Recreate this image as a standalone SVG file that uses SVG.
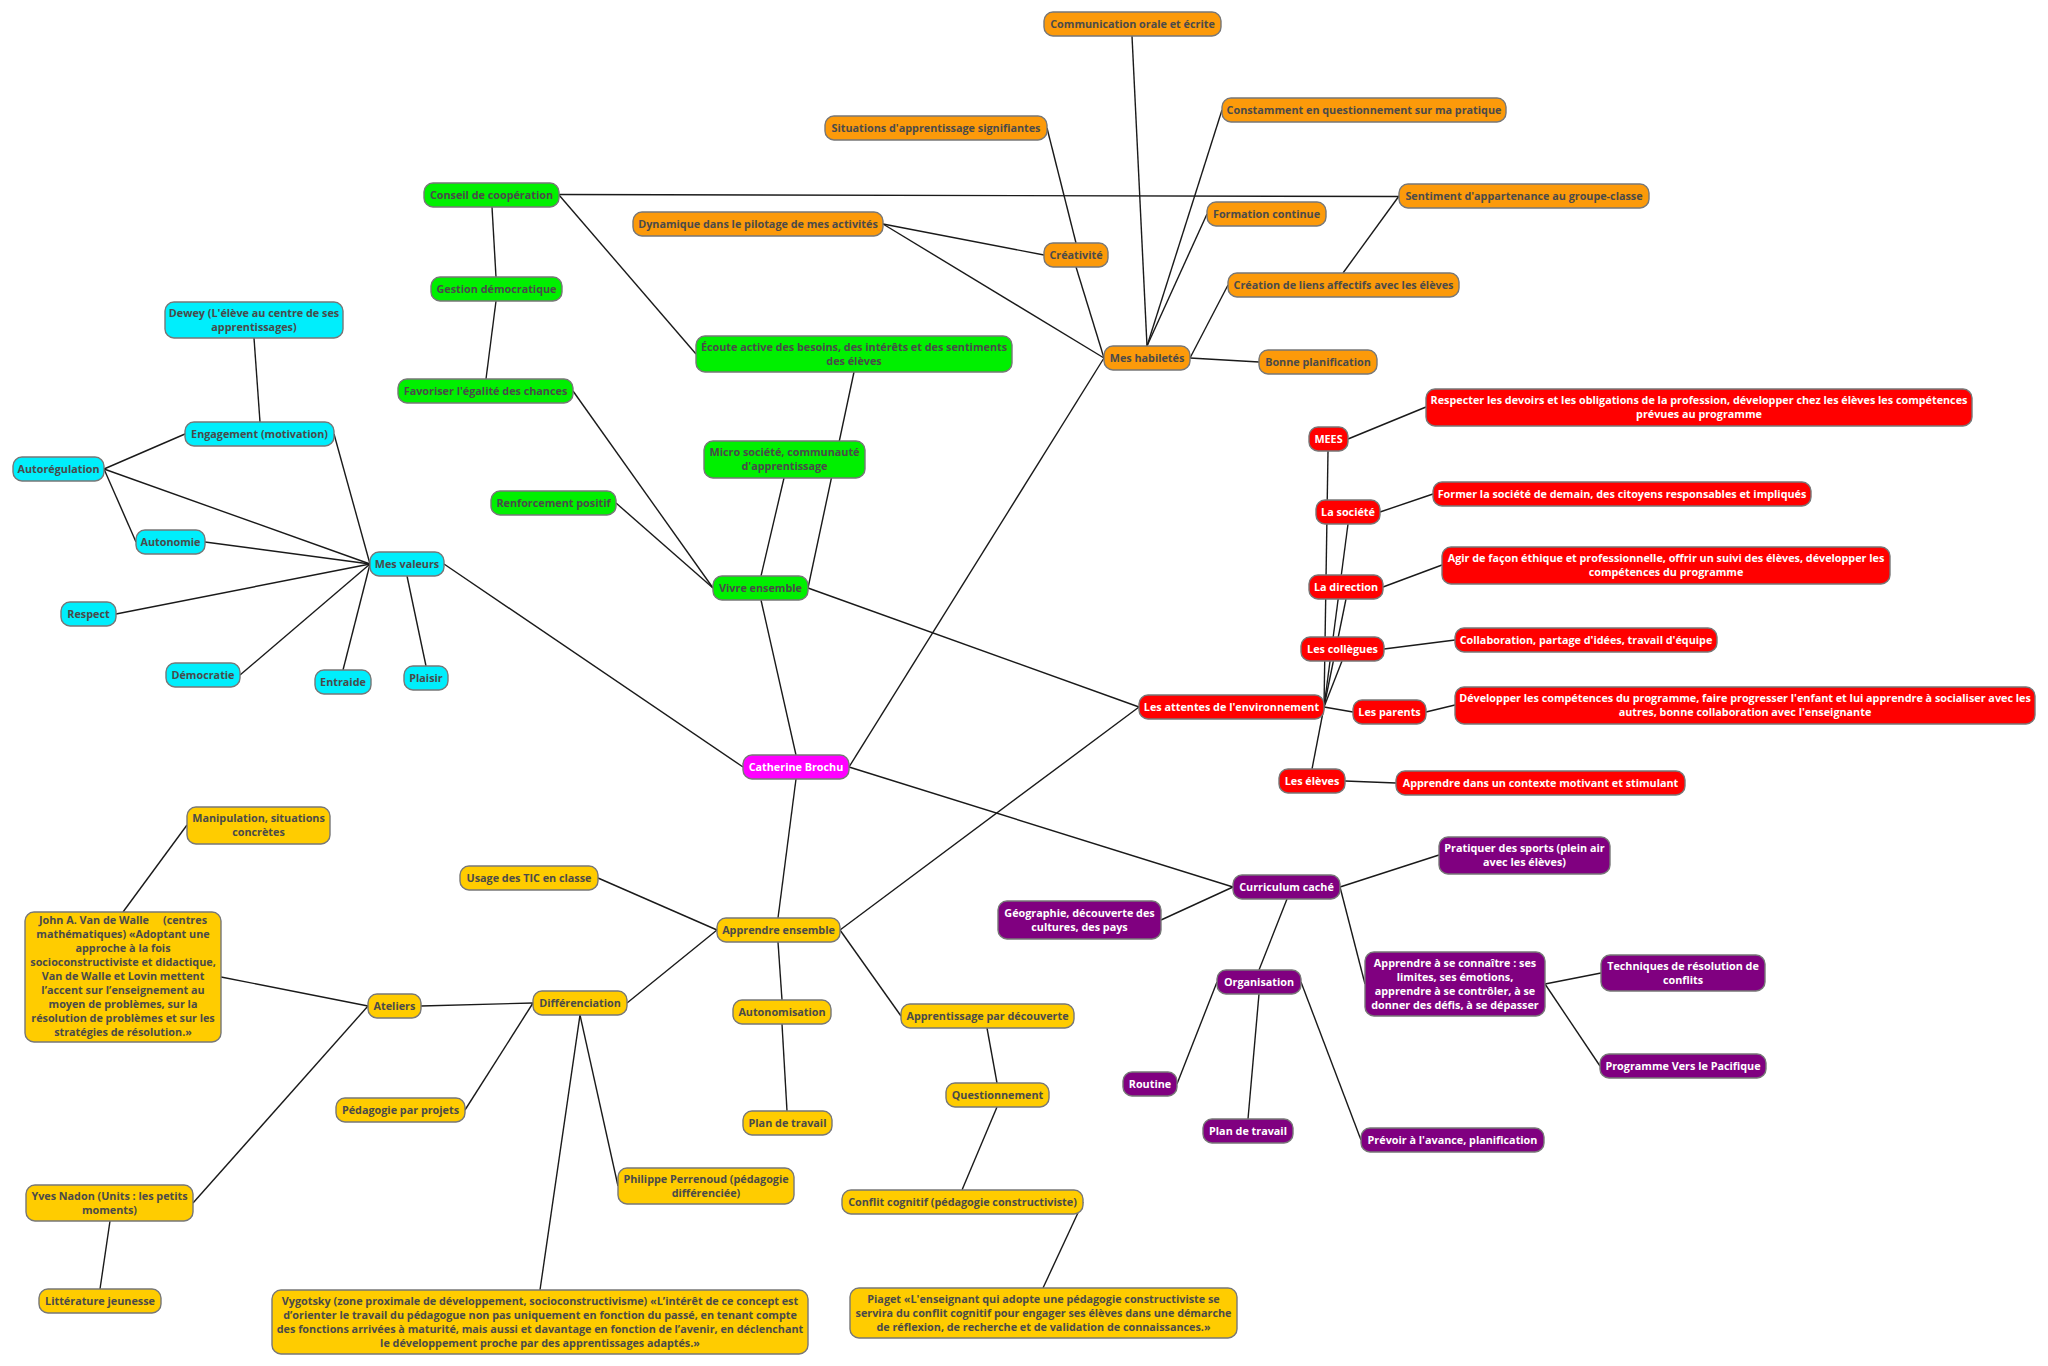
<svg xmlns="http://www.w3.org/2000/svg" width="2048" height="1366" viewBox="0 0 2048 1366">
<style>
.bg{fill:#ffffff}
.n rect{stroke:#777777;stroke-width:1.4}
.n text{font-family:"Open Sans","Noto Sans","Liberation Sans",sans-serif;font-size:10.8px;font-weight:700;text-anchor:middle;fill:#4a4a4a}
.w text{fill:#ffffff}
.cy rect{fill:#00eefc}
.gr rect{fill:#00f000}
.or rect{fill:#fc9a0a}
.rd rect{fill:#ff0000}
.pu rect{fill:#800080}
.ye rect{fill:#ffcc00}
.mg rect{fill:#ff00ff}
#connectors line{stroke:#1a1a1a;stroke-width:1.4}
</style>
<rect class="bg" x="0" y="0" width="2048" height="1366"/>
<g id="connectors">
<line x1="743" y1="767" x2="444" y2="564"/>
<line x1="796" y1="755" x2="761" y2="600"/>
<line x1="849" y1="767" x2="1104" y2="358"/>
<line x1="849" y1="767" x2="1233" y2="887"/>
<line x1="796" y1="779" x2="778" y2="918"/>
<line x1="370" y1="564" x2="334" y2="434"/>
<line x1="370" y1="564" x2="104" y2="469"/>
<line x1="370" y1="564" x2="205" y2="542"/>
<line x1="370" y1="564" x2="116" y2="614"/>
<line x1="370" y1="564" x2="240" y2="675"/>
<line x1="370" y1="564" x2="343" y2="670"/>
<line x1="407" y1="576" x2="426" y2="666"/>
<line x1="104" y1="469" x2="185" y2="434"/>
<line x1="104" y1="469" x2="136" y2="542"/>
<line x1="260" y1="422" x2="254" y2="338"/>
<line x1="492" y1="207" x2="496" y2="277"/>
<line x1="496" y1="301" x2="486" y2="379"/>
<line x1="573" y1="391" x2="713" y2="588"/>
<line x1="616" y1="503" x2="713" y2="588"/>
<line x1="559" y1="195" x2="696" y2="354"/>
<line x1="559" y1="194.5" x2="1399" y2="196.5"/>
<line x1="854" y1="372" x2="808" y2="588"/>
<line x1="784" y1="478" x2="761" y2="576"/>
<line x1="808" y1="588" x2="1139" y2="707"/>
<line x1="1147" y1="346" x2="1132" y2="36"/>
<line x1="1147" y1="346" x2="1222" y2="110"/>
<line x1="1147" y1="346" x2="1207" y2="214"/>
<line x1="1104" y1="358" x2="1076" y2="267"/>
<line x1="1076" y1="243" x2="1047" y2="128"/>
<line x1="1044" y1="255" x2="883" y2="224"/>
<line x1="1104" y1="358" x2="883" y2="224"/>
<line x1="1190" y1="358" x2="1228" y2="285"/>
<line x1="1190" y1="358" x2="1259" y2="362"/>
<line x1="1343" y1="273" x2="1399" y2="196"/>
<line x1="1324" y1="707" x2="1328" y2="451"/>
<line x1="1324" y1="707" x2="1348" y2="524"/>
<line x1="1324" y1="707" x2="1346" y2="599"/>
<line x1="1324" y1="707" x2="1342" y2="661"/>
<line x1="1324" y1="707" x2="1353" y2="712"/>
<line x1="1324" y1="707" x2="1312" y2="769"/>
<line x1="1348" y1="439" x2="1426" y2="407"/>
<line x1="1380" y1="512" x2="1433" y2="494"/>
<line x1="1383" y1="587" x2="1442" y2="565"/>
<line x1="1384" y1="649" x2="1455" y2="640"/>
<line x1="1426" y1="712" x2="1455" y2="705"/>
<line x1="1345" y1="781" x2="1396" y2="783"/>
<line x1="840" y1="930" x2="1139" y2="707"/>
<line x1="1340" y1="887" x2="1439" y2="855"/>
<line x1="1233" y1="887" x2="1161" y2="920"/>
<line x1="1287" y1="899" x2="1259" y2="970"/>
<line x1="1340" y1="887" x2="1365" y2="984"/>
<line x1="1217" y1="982" x2="1177" y2="1084"/>
<line x1="1259" y1="994" x2="1248" y2="1119"/>
<line x1="1301" y1="982" x2="1361" y2="1140"/>
<line x1="1545" y1="984" x2="1601" y2="973"/>
<line x1="1545" y1="984" x2="1600" y2="1066"/>
<line x1="717" y1="930" x2="598" y2="878"/>
<line x1="717" y1="930" x2="627" y2="1003"/>
<line x1="778" y1="942" x2="782" y2="1000"/>
<line x1="840" y1="930" x2="901" y2="1016"/>
<line x1="987" y1="1028" x2="997" y2="1083"/>
<line x1="997" y1="1107" x2="962" y2="1190"/>
<line x1="1083" y1="1202" x2="1043" y2="1288"/>
<line x1="782" y1="1024" x2="787" y2="1111"/>
<line x1="533" y1="1003" x2="421" y2="1006"/>
<line x1="533" y1="1003" x2="465" y2="1110"/>
<line x1="580" y1="1015" x2="618" y2="1186"/>
<line x1="580" y1="1015" x2="540" y2="1290"/>
<line x1="368" y1="1006" x2="221" y2="977"/>
<line x1="368" y1="1006" x2="193" y2="1203"/>
<line x1="123" y1="912" x2="187" y2="825"/>
<line x1="110" y1="1221" x2="100" y2="1289"/>
</g>

<g id="catherine" class="n mg w"><rect x="743" y="755" width="106" height="24" rx="9"/><text x="796" y="771">Catherine Brochu</text></g>

<g id="dewey" class="n cy"><rect x="165" y="302" width="178" height="36" rx="9"/><text x="254" y="317">Dewey (L'élève au centre de ses</text><text x="254" y="331">apprentissages)</text></g>
<g id="engagement" class="n cy"><rect x="185" y="422" width="149" height="24" rx="9"/><text x="259.5" y="438">Engagement (motivation)</text></g>
<g id="autoregulation" class="n cy"><rect x="13" y="457" width="91" height="24" rx="9"/><text x="58.5" y="473">Autorégulation</text></g>
<g id="autonomie" class="n cy"><rect x="136" y="530" width="69" height="24" rx="9"/><text x="170.5" y="546">Autonomie</text></g>
<g id="mes-valeurs" class="n cy"><rect x="370" y="552" width="74" height="24" rx="9"/><text x="407" y="568">Mes valeurs</text></g>
<g id="respect" class="n cy"><rect x="61" y="602" width="55" height="24" rx="9"/><text x="88.5" y="618">Respect</text></g>
<g id="democratie" class="n cy"><rect x="166" y="663" width="74" height="24" rx="9"/><text x="203" y="679">Démocratie</text></g>
<g id="entraide" class="n cy"><rect x="315" y="670" width="56" height="24" rx="9"/><text x="343" y="686">Entraide</text></g>
<g id="plaisir" class="n cy"><rect x="404" y="666" width="44" height="24" rx="9"/><text x="426" y="682">Plaisir</text></g>

<g id="conseil" class="n gr"><rect x="424" y="183" width="135" height="24" rx="9"/><text x="491.5" y="199">Conseil de coopération</text></g>
<g id="gestion" class="n gr"><rect x="431" y="277" width="131" height="24" rx="9"/><text x="496.5" y="293">Gestion démocratique</text></g>
<g id="favoriser" class="n gr"><rect x="398" y="379" width="175" height="24" rx="9"/><text x="485.5" y="395">Favoriser l'égalité des chances</text></g>
<g id="ecoute" class="n gr"><rect x="696" y="336" width="316" height="36" rx="9"/><text x="854" y="351">Écoute active des besoins, des intérêts et des sentiments</text><text x="854" y="365">des élèves</text></g>
<g id="micro" class="n gr"><rect x="704" y="441" width="161" height="37" rx="9"/><text x="784.5" y="456">Micro société, communauté</text><text x="784.5" y="470">d'apprentissage</text></g>
<g id="renforcement" class="n gr"><rect x="491" y="491" width="125" height="24" rx="9"/><text x="553.5" y="507">Renforcement positif</text></g>
<g id="vivre" class="n gr"><rect x="713" y="576" width="95" height="24" rx="9"/><text x="760.5" y="592">Vivre ensemble</text></g>

<g id="communication" class="n or"><rect x="1044" y="12" width="177" height="24" rx="9"/><text x="1132.5" y="28">Communication orale et écrite</text></g>
<g id="constamment" class="n or"><rect x="1222" y="98" width="284" height="24" rx="9"/><text x="1364" y="114">Constamment en questionnement sur ma pratique</text></g>
<g id="situations" class="n or"><rect x="825" y="116" width="222" height="24" rx="9"/><text x="936" y="132">Situations d'apprentissage signifiantes</text></g>
<g id="sentiment" class="n or"><rect x="1399" y="184" width="250" height="24" rx="9"/><text x="1524" y="200">Sentiment d'appartenance au groupe-classe</text></g>
<g id="formation" class="n or"><rect x="1207" y="202" width="119" height="24" rx="9"/><text x="1266.5" y="218">Formation continue</text></g>
<g id="dynamique" class="n or"><rect x="633" y="212" width="250" height="24" rx="9"/><text x="758" y="228">Dynamique dans le pilotage de mes activités</text></g>
<g id="creativite" class="n or"><rect x="1044" y="243" width="64" height="24" rx="9"/><text x="1076" y="259">Créativité</text></g>
<g id="creation-liens" class="n or"><rect x="1228" y="273" width="231" height="24" rx="9"/><text x="1343.5" y="289">Création de liens affectifs avec les élèves</text></g>
<g id="mes-habiletes" class="n or"><rect x="1104" y="346" width="86" height="24" rx="9"/><text x="1147" y="362">Mes habiletés</text></g>
<g id="bonne-planification" class="n or"><rect x="1259" y="350" width="118" height="24" rx="9"/><text x="1318" y="366">Bonne planification</text></g>

<g id="respecter" class="n rd w"><rect x="1426" y="389" width="546" height="37" rx="9"/><text x="1699" y="404">Respecter les devoirs et les obligations de la profession, développer chez les élèves les compétences</text><text x="1699" y="418">prévues au programme</text></g>
<g id="mees" class="n rd w"><rect x="1309" y="427" width="39" height="24" rx="9"/><text x="1328.5" y="443">MEES</text></g>
<g id="former" class="n rd w"><rect x="1433" y="482" width="378" height="24" rx="9"/><text x="1622" y="498">Former la société de demain, des citoyens responsables et impliqués</text></g>
<g id="la-societe" class="n rd w"><rect x="1316" y="500" width="64" height="24" rx="9"/><text x="1348" y="516">La société</text></g>
<g id="agir" class="n rd w"><rect x="1442" y="547" width="448" height="37" rx="9"/><text x="1666" y="562">Agir de façon éthique et professionnelle, offrir un suivi des élèves, développer les</text><text x="1666" y="576">compétences du programme</text></g>
<g id="la-direction" class="n rd w"><rect x="1309" y="575" width="74" height="24" rx="9"/><text x="1346" y="591">La direction</text></g>
<g id="collaboration" class="n rd w"><rect x="1455" y="628" width="262" height="24" rx="9"/><text x="1586" y="644">Collaboration, partage d'idées, travail d'équipe</text></g>
<g id="les-collegues" class="n rd w"><rect x="1301" y="637" width="83" height="24" rx="9"/><text x="1342.5" y="653">Les collègues</text></g>
<g id="developper" class="n rd w"><rect x="1455" y="687" width="580" height="37" rx="9"/><text x="1745" y="702">Développer les compétences du programme, faire progresser l'enfant et lui apprendre à socialiser avec les</text><text x="1745" y="716">autres, bonne collaboration avec l'enseignante</text></g>
<g id="les-parents" class="n rd w"><rect x="1353" y="700" width="73" height="24" rx="9"/><text x="1389.5" y="716">Les parents</text></g>
<g id="attentes" class="n rd w"><rect x="1139" y="695" width="185" height="24" rx="9"/><text x="1231.5" y="711">Les attentes de l'environnement</text></g>
<g id="les-eleves" class="n rd w"><rect x="1279" y="769" width="66" height="24" rx="9"/><text x="1312" y="785">Les élèves</text></g>
<g id="apprendre-contexte" class="n rd w"><rect x="1396" y="771" width="289" height="24" rx="9"/><text x="1540.5" y="787">Apprendre dans un contexte motivant et stimulant</text></g>

<g id="pratiquer" class="n pu w"><rect x="1439" y="837" width="171" height="37" rx="9"/><text x="1524.5" y="852">Pratiquer des sports (plein air</text><text x="1524.5" y="866">avec les élèves)</text></g>
<g id="curriculum" class="n pu w"><rect x="1233" y="875" width="107" height="24" rx="9"/><text x="1286.5" y="891">Curriculum caché</text></g>
<g id="geographie" class="n pu w"><rect x="998" y="901" width="163" height="38" rx="9"/><text x="1079.5" y="917">Géographie, découverte des</text><text x="1079.5" y="931">cultures, des pays</text></g>
<g id="organisation" class="n pu w"><rect x="1217" y="970" width="84" height="24" rx="9"/><text x="1259" y="986">Organisation</text></g>
<g id="se-connaitre" class="n pu w"><rect x="1365" y="952" width="180" height="64" rx="9"/><text x="1455" y="967">Apprendre à se connaître : ses</text><text x="1455" y="981">limites, ses émotions,</text><text x="1455" y="995">apprendre à se contrôler, à se</text><text x="1455" y="1009">donner des défis, à se dépasser</text></g>
<g id="techniques" class="n pu w"><rect x="1601" y="955" width="164" height="36" rx="9"/><text x="1683" y="970">Techniques de résolution de</text><text x="1683" y="984">conflits</text></g>
<g id="programme" class="n pu w"><rect x="1600" y="1054" width="166" height="24" rx="9"/><text x="1683" y="1070">Programme Vers le Pacifique</text></g>
<g id="routine" class="n pu w"><rect x="1123" y="1072" width="54" height="24" rx="9"/><text x="1150" y="1088">Routine</text></g>
<g id="plan-travail-p" class="n pu w"><rect x="1203" y="1119" width="90" height="24" rx="9"/><text x="1248" y="1135">Plan de travail</text></g>
<g id="prevoir" class="n pu w"><rect x="1361" y="1128" width="183" height="24" rx="9"/><text x="1452.5" y="1144">Prévoir à l'avance, planification</text></g>

<g id="manipulation" class="n ye"><rect x="187" y="807" width="143" height="37" rx="9"/><text x="258.5" y="822">Manipulation, situations</text><text x="258.5" y="836">concrètes</text></g>
<g id="john" class="n ye"><rect x="25" y="912" width="196" height="130" rx="9"/><text x="123" y="924" style="white-space:pre">John A. Van de Walle     (centres</text><text x="123" y="938">mathématiques) «Adoptant une</text><text x="123" y="952">approche à la fois</text><text x="123" y="966">socioconstructiviste et didactique,</text><text x="123" y="980">Van de Walle et Lovin mettent</text><text x="123" y="994">l’accent sur l’enseignement au</text><text x="123" y="1008">moyen de problèmes, sur la</text><text x="123" y="1022">résolution de problèmes et sur les</text><text x="123" y="1036">stratégies de résolution.»</text></g>
<g id="usage-tic" class="n ye"><rect x="460" y="866" width="138" height="24" rx="9"/><text x="529" y="882">Usage des TIC en classe</text></g>
<g id="apprendre-ensemble" class="n ye"><rect x="717" y="918" width="123" height="24" rx="9"/><text x="778.5" y="934">Apprendre ensemble</text></g>
<g id="ateliers" class="n ye"><rect x="368" y="994" width="53" height="24" rx="9"/><text x="394.5" y="1010">Ateliers</text></g>
<g id="differenciation" class="n ye"><rect x="533" y="991" width="94" height="24" rx="9"/><text x="580" y="1007">Différenciation</text></g>
<g id="autonomisation" class="n ye"><rect x="733" y="1000" width="98" height="24" rx="9"/><text x="782" y="1016">Autonomisation</text></g>
<g id="decouverte" class="n ye"><rect x="901" y="1004" width="173" height="24" rx="9"/><text x="987.5" y="1020">Apprentissage par découverte</text></g>
<g id="questionnement" class="n ye"><rect x="946" y="1083" width="103" height="24" rx="9"/><text x="997.5" y="1099">Questionnement</text></g>
<g id="pedagogie-projets" class="n ye"><rect x="336" y="1098" width="129" height="24" rx="9"/><text x="400.5" y="1114">Pédagogie par projets</text></g>
<g id="plan-travail-y" class="n ye"><rect x="743" y="1111" width="89" height="24" rx="9"/><text x="787.5" y="1127">Plan de travail</text></g>
<g id="yves" class="n ye"><rect x="26" y="1185" width="167" height="36" rx="9"/><text x="109.5" y="1200">Yves Nadon (Units : les petits</text><text x="109.5" y="1214">moments)</text></g>
<g id="philippe" class="n ye"><rect x="618" y="1168" width="176" height="36" rx="9"/><text x="706" y="1183">Philippe Perrenoud (pédagogie</text><text x="706" y="1197">différenciée)</text></g>
<g id="conflit" class="n ye"><rect x="842" y="1190" width="241" height="24" rx="9"/><text x="962.5" y="1206">Conflit cognitif (pédagogie constructiviste)</text></g>
<g id="litterature" class="n ye"><rect x="39" y="1289" width="122" height="24" rx="9"/><text x="100" y="1305">Littérature jeunesse</text></g>
<g id="vygotsky" class="n ye"><rect x="272" y="1290" width="536" height="64" rx="9"/><text x="540" y="1305">Vygotsky (zone proximale de développement, socioconstructivisme) «L’intérêt de ce concept est</text><text x="540" y="1319">d’orienter le travail du pédagogue non pas uniquement en fonction du passé, en tenant compte</text><text x="540" y="1333">des fonctions arrivées à maturité, mais aussi et davantage en fonction de l’avenir, en déclenchant</text><text x="540" y="1347">le développement proche par des apprentissages adaptés.»</text></g>
<g id="piaget" class="n ye"><rect x="850" y="1288" width="387" height="50" rx="9"/><text x="1043.5" y="1303">Piaget «L'enseignant qui adopte une pédagogie constructiviste se</text><text x="1043.5" y="1317">servira du conflit cognitif pour engager ses élèves dans une démarche</text><text x="1043.5" y="1331">de réflexion, de recherche et de validation de connaissances.»</text></g>
</svg>
